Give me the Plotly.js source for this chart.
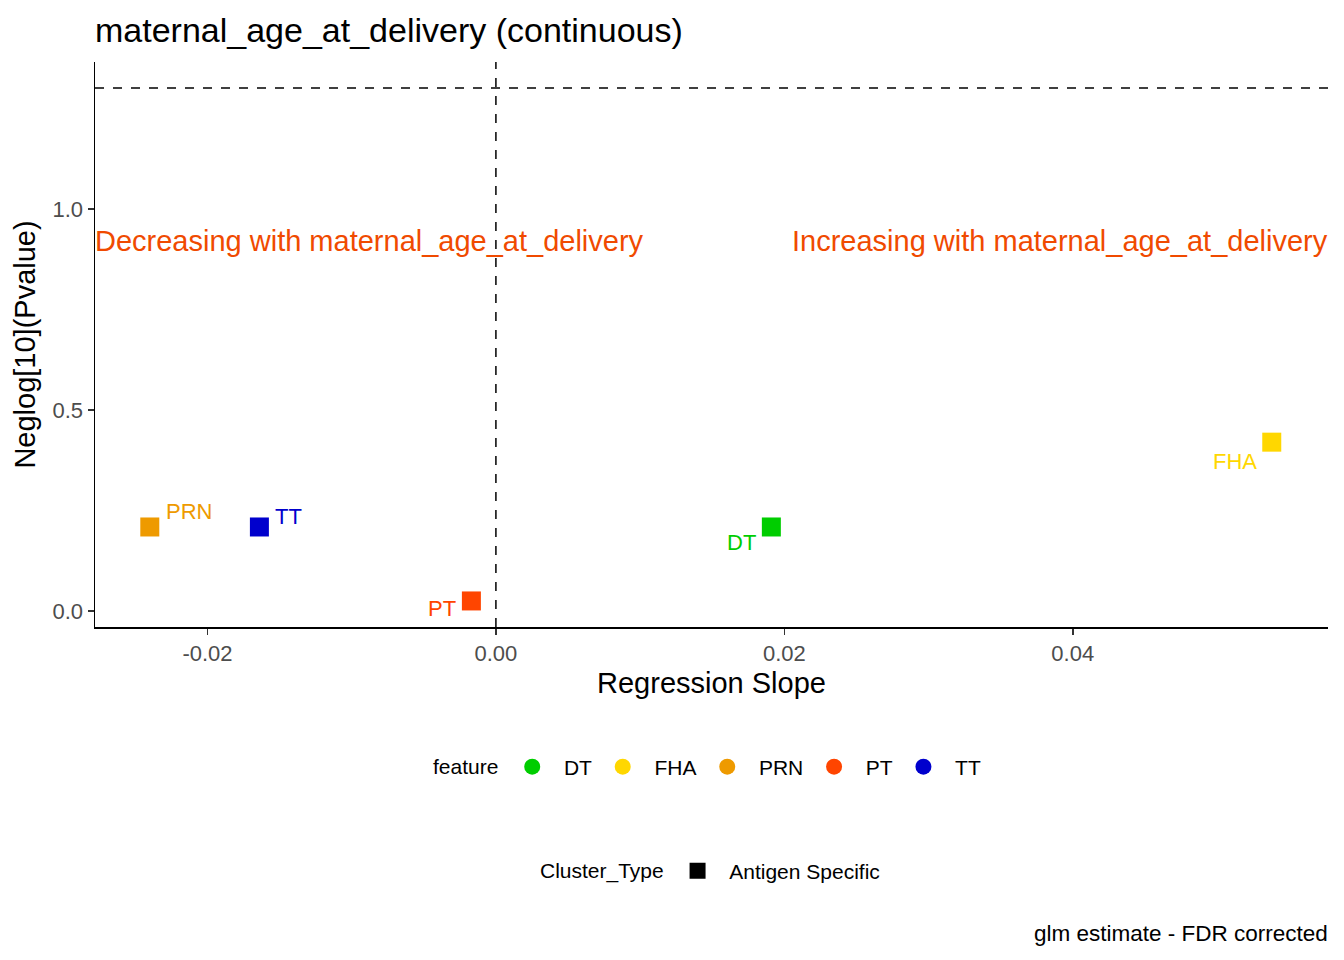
<!DOCTYPE html>
<html>
<head>
<meta charset="utf-8">
<script src="https://cdn.plot.ly/plotly-3.0.1.min.js"></script>
<style>
  html, body { margin: 0; padding: 0; background: #fff; }
  #graph { width: 1344px; height: 960px; }
</style>
</head>
<body>
<div id="graph"></div>
<script>
// values
var features = ['DT', 'FHA', 'PRN', 'PT', 'TT'];
var slopes = [0.0191, 0.0538, -0.0240, -0.0017, -0.0164];
var neglogP = [0.209, 0.420, 0.209, 0.025, 0.209];
var clusterTypes = ['Antigen Specific'];
var pThreshold = 1.301; // -log10(0.05)

var colors = {DT: '#00CD00', FHA: '#FFD700', PRN: '#EE9A00', PT: '#FF4500', TT: '#0000CD'};
// where each point label sits (repelled like in the original): anchor side, pixel shifts
var labelStyle = {
    DT:  {anchor: 'right', dx: -13, dy: -16},
    FHA: {anchor: 'right', dx: -13, dy: -19},
    PRN: {anchor: 'left',  dx: 14,  dy: 15},
    PT:  {anchor: 'right', dx: -13, dy: -8},
    TT:  {anchor: 'left',  dx: 14,  dy: 10}
};

var font = 'Liberation Sans, Arial, sans-serif';
var pad = '\u00a0\u00a0';  // extra room between legend key and its text
var data = [];
var labels = [];

// the points (squares)
features.forEach(function(f, i) {
    data.push({
        x: [slopes[i]],
        y: [neglogP[i]],
        mode: 'markers',
        type: 'scatter',
        name: f,
        marker: {symbol: 'square', size: 19, color: colors[f]},
        showlegend: false
    });
    labels.push({
        text: f, xref: 'x', yref: 'y', x: slopes[i], y: neglogP[i],
        xanchor: labelStyle[f].anchor, yanchor: 'middle',
        xshift: labelStyle[f].dx, yshift: labelStyle[f].dy,
        showarrow: false,
        font: {family: font, size: 22, color: colors[f]}
    });
});

// legend entries for feature (circles)
features.forEach(function(f) {
    data.push({
        x: [null], y: [null],
        mode: 'markers', type: 'scatter',
        name: pad + f + '\u00a0',
        marker: {symbol: 'circle', size: 18, color: colors[f]},
        legend: 'legend',
        showlegend: true
    });
});

// legend entry for Cluster_Type
clusterTypes.forEach(function(c) {
    data.push({
        x: [null], y: [null],
        mode: 'markers', type: 'scatter',
        name: pad + c,
        marker: {symbol: 'square', size: 18, color: '#000000'},
        legend: 'legend2',
        showlegend: true
    });
});

var layout = {
    width: 1344,
    height: 960,
    paper_bgcolor: '#fff',
    plot_bgcolor: '#fff',
    margin: {l: 95, r: 16, t: 62, b: 333},
    font: {family: font, color: '#000'},
    title: {
        text: 'maternal_age_at_delivery (continuous)',
        font: {family: font, size: 34, color: '#000'},
        x: 0, xanchor: 'left', xref: 'paper',
        y: 1 - 30 / 960, yanchor: 'middle'
    },
    xaxis: {
        range: [-0.0278, 0.0577],
        tickvals: [-0.02, 0, 0.02, 0.04],
        ticktext: ['-0.02', '0.00', '0.02', '0.04'],
        showgrid: false, zeroline: false,
        showline: true, linecolor: '#000', linewidth: 1.5,
        ticks: 'outside', ticklen: 6, tickcolor: '#333', tickwidth: 1.5,
        tickfont: {family: font, size: 22, color: '#4D4D4D'},
        title: {text: 'Regression Slope', font: {family: font, size: 29, color: '#000'}, standoff: 8}
    },
    yaxis: {
        range: [-0.0398, 1.3657],
        tickvals: [0, 0.5, 1.0],
        ticktext: ['0.0', '0.5', '1.0'],
        showgrid: false, zeroline: false,
        showline: true, linecolor: '#000', linewidth: 1.5,
        ticks: 'outside', ticklen: 6, tickcolor: '#333', tickwidth: 1.5,
        tickfont: {family: font, size: 22, color: '#4D4D4D'},
        title: {text: 'Neglog[10](Pvalue)', font: {family: font, size: 29, color: '#000'}, standoff: 8}
    },
    shapes: [
        {type: 'line', xref: 'paper', x0: 0, x1: 1, yref: 'y', y0: pThreshold, y1: pThreshold,
         line: {color: '#000', width: 1.5, dash: 'dash'}},
        {type: 'line', xref: 'x', x0: 0, x1: 0, yref: 'paper', y0: 0, y1: 1,
         line: {color: '#000', width: 1.5, dash: 'dash'}}
    ],
    annotations: labels.concat([
        {text: 'Decreasing with maternal_age_at_delivery', xref: 'paper', x: 0, xanchor: 'left',
         yref: 'y', y: 0.92, yanchor: 'middle', showarrow: false, xshift: -2,
         font: {family: font, size: 29, color: '#F04A00'}},
        {text: 'Increasing with maternal_age_at_delivery', xref: 'paper', x: 1, xanchor: 'right',
         yref: 'y', y: 0.92, yanchor: 'middle', showarrow: false, xshift: 2,
         font: {family: font, size: 29, color: '#F04A00'}},
        {text: 'glm estimate - FDR corrected', xref: 'paper', x: 1, xanchor: 'right',
         yref: 'paper', y: (627 - 933) / 565, yanchor: 'middle', showarrow: false, xshift: 2,
         font: {family: font, size: 22.5, color: '#000'}}
    ]),
    legend: {
        orientation: 'h',
        x: 0.5, xanchor: 'center',
        y: (627 - 767) / 565, yanchor: 'middle',
        title: {text: 'feature ', font: {family: font, size: 21, color: '#000'}, side: 'left'},
        font: {family: font, size: 21, color: '#000'},
        bgcolor: 'rgba(0,0,0,0)'
    },
    legend2: {
        orientation: 'h',
        x: 0.5, xanchor: 'center',
        y: (627 - 871) / 565, yanchor: 'middle',
        title: {text: 'Cluster_Type ', font: {family: font, size: 21, color: '#000'}, side: 'left'},
        font: {family: font, size: 21, color: '#000'},
        bgcolor: 'rgba(0,0,0,0)'
    }
};

Plotly.newPlot('graph', data, layout, {displayModeBar: false, staticPlot: true});
</script>
</body>
</html>
